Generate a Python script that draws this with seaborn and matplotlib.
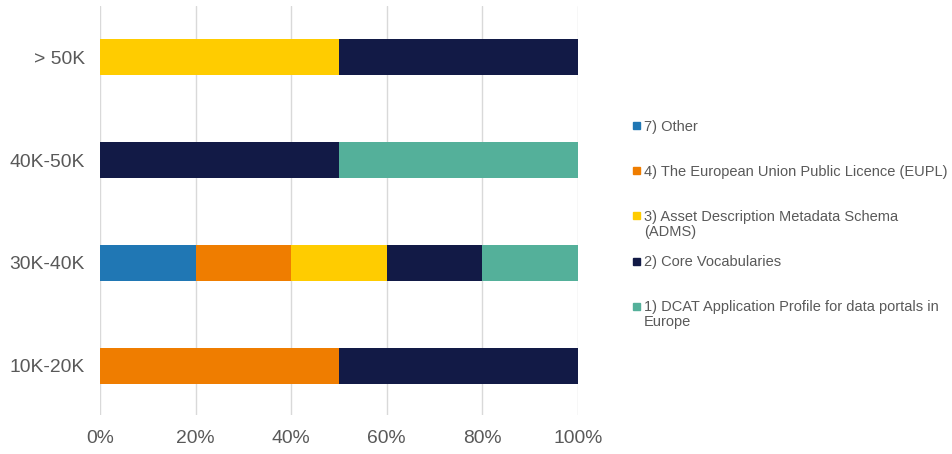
import pandas as pd
import numpy as np
import matplotlib.pyplot as plt
import seaborn as sns

# data (percent of respondents per income band)
bands = ["> 50K", "40K-50K", "30K-40K", "10K-20K"]
series = ["7) Other",
          "4) The European Union Public Licence (EUPL)",
          "3) Asset Description Metadata Schema\n(ADMS)",
          "2) Core Vocabularies",
          "1) DCAT Application Profile for data portals in\nEurope"]
other = [0, 0, 20, 0]
eupl = [0, 0, 20, 50]
adms = [50, 0, 20, 0]
core = [50, 50, 20, 50]
dcat = [0, 50, 20, 0]
colors = ["#2077B4", "#EF7D00", "#FFCC00", "#121A46", "#54B09A"]

df = pd.DataFrame({"band": bands, series[0]: other, series[1]: eupl,
                   series[2]: adms, series[3]: core, series[4]: dcat})
cum = df[series].cumsum(axis=1)

sns.set_style("white")
plt.rcParams["font.family"] = ["Liberation Sans", "DejaVu Sans"]

fig = plt.figure(figsize=(9.52, 4.54), dpi=100)
ax = fig.add_axes([0.105, 0.086, 0.502, 0.901])

# stacked bars: draw cumulative totals from the right-most segment down
for s, c in reversed(list(zip(series, colors))):
    sns.barplot(x=cum[s], y=df["band"], color=c, width=0.35, orient="h",
                saturation=1, edgecolor="none", linewidth=0, ax=ax, zorder=3)

ax.set_xlim(0, 100)
ax.set_ylim(3.48, -0.5)
ax.set_xticks([0, 20, 40, 60, 80, 100])
ax.set_xticklabels(["0%", "20%", "40%", "60%", "80%", "100%"])
ax.grid(axis="x", color="#D9D9D9", linewidth=1, zorder=0)
ax.set_axisbelow(True)
ax.set_xlabel("")
ax.set_ylabel("")
for sp in ax.spines.values():
    sp.set_visible(False)
ax.tick_params(axis="both", length=0, labelsize=13.9, labelcolor="#595959")
ax.tick_params(axis="x", pad=11)
ax.tick_params(axis="y", pad=11)

# legend on the right, one slot per series, marker level with the first line
top, pitch = 1 - 125.5 / 454, 45.2 / 454
for i, (s, c) in enumerate(zip(series, colors)):
    y = top - i * pitch
    fig.patches.append(plt.Rectangle((633 / 952, y - 3.5 / 454), 7 / 952, 7 / 454,
                                     color=c, transform=fig.transFigure))
    fig.text(644 / 952, y + 6 / 454, s, fontsize=10.5, color="#595959",
             va="top", ha="left", linespacing=1.1)

fig.savefig("out.png", dpi=100)
